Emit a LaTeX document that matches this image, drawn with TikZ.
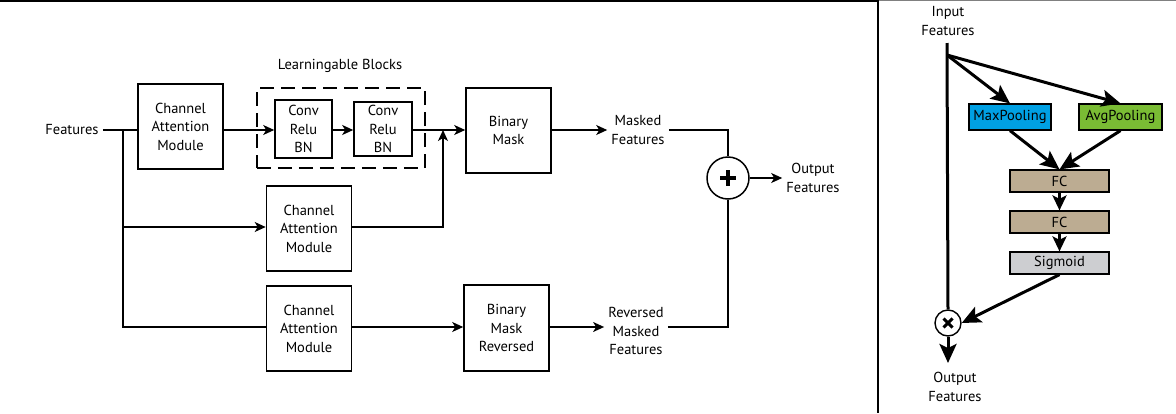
\documentclass[tikz,border=0pt]{standalone}
\usepackage{fontspec}
\setmainfont{PT Sans}
\usetikzlibrary{arrows.meta,calc}
\definecolor{maxc}{RGB}{0,160,227}
\definecolor{avgc}{RGB}{122,188,52}
\definecolor{fcc}{RGB}{188,172,146}
\definecolor{sigc}{RGB}{205,206,209}
\begin{document}
\begin{tikzpicture}[x=1pt,y=-1pt,
  txt/.style={align=center,font=\fontsize{14.5}{18.5}\selectfont,inner sep=4pt},
  box/.style={draw,line width=1.6pt,align=center,inner sep=0pt,
    font=\fontsize{14.5}{18.5}\selectfont},
  sbox/.style={draw,line width=1.2pt,inner sep=0pt,minimum height=23pt,
    font=\fontsize{14.5}{16}\selectfont},
  ln/.style={line width=1.3pt},
  la/.style={ln,-{Stealth[length=11pt,width=10pt,inset=3pt]}},
  ra/.style={line width=3pt,-{Stealth[length=19pt,width=17pt,inset=4pt]}},
  rs/.style={line width=3pt,-{Stealth[length=15pt,width=14pt,inset=3.5pt]}}]
\useasboundingbox (0,0) rectangle (1176,413);
% frame
\draw[line width=1.6pt] (0,0.8) -- (878,0.8);
\draw[line width=1.2pt,gray] (878,0.6) -- (1176,0.6);
\draw[line width=1.6pt] (878,0) -- (878,413);

% ---------- left panel ----------
\node[txt] (feat) at (72,130) {Features};
\node[box,minimum width=85pt,minimum height=85pt] (cam1) at (180.5,126.5) {Channel\\Attention\\Module};
\node[draw,line width=1.6pt,dash pattern=on 14pt off 7pt,minimum width=168pt,minimum height=80pt,inner sep=0pt] (lbox) at (340.75,128) {};
\node[txt] (lbl) at (340,66) {Learningable Blocks};
\node[box,minimum width=57pt,minimum height=58pt] (conv1) at (303.5,129) {Conv\\Relu\\BN};
\node[box,minimum width=58pt,minimum height=54pt] (conv2) at (383,129) {Conv\\Relu\\BN};
\node[box,minimum width=85pt,minimum height=85pt] (bm) at (508.5,130.5) {Binary\\Mask};
\node[box,minimum width=85pt,minimum height=85pt] (cam2) at (309,228.5) {Channel\\Attention\\Module};
\node[box,minimum width=85pt,minimum height=85pt] (cam3) at (309,328.5) {Channel\\Attention\\Module};
\node[box,minimum width=85pt,minimum height=86pt] (bmr) at (506.5,328) {Binary\\Mask\\Reversed};
\node[txt] (masked) at (638,130) {Masked\\Features};
\node[txt] (revm) at (636,331) {Reversed\\Masked\\Features};
\node[draw,circle,line width=1.5pt,minimum size=42pt,inner sep=0pt] (plus) at (728,178) {};
\draw[line width=3.2pt] ($(plus.center)+(-8,0)$) -- ($(plus.center)+(8,0)$)
  ($(plus.center)+(0,-8)$) -- ($(plus.center)+(0,8)$);
\node[txt] (out) at (813,178) {Output\\Features};

\coordinate (br) at (123,130);
\coordinate (br2) at (123,227);
\coordinate (br3) at (123,327);
\coordinate (jn) at (443,130);

\draw[ln] (feat.east) -- (feat.east -| cam1.west);
\draw[ln] (br) -- (br3) -- (br3 -| cam3.west);
\draw[la] (br2) -- (br2 -| cam2.west);
\draw[la] (cam1.east |- feat) -- (conv1.west |- feat);
\draw[line width=2.4pt,-{Stealth[length=11pt,width=10pt,inset=3pt]}] (conv1.east |- feat) -- (conv2.west |- feat);
\draw[la] (conv2.east |- feat) -- (bm.west |- feat);
\draw[la] (cam2.east |- br2) -| (jn);
\draw[la] (bm.east |- feat) -- (masked.west |- feat);
\draw[ln] (masked.east |- feat) -| (plus.north);
\draw[la] (plus.east) -- (out.west);
\draw[la] (cam3.east |- br3) -- (bmr.west |- br3);
\draw[la] (bmr.east |- br3) -- (revm.west |- br3);
\draw[ln] (revm.east |- br3) -| (plus.south);

% ---------- right panel ----------
\node[txt] (inf) at (948,21) {Input\\Features};
\node[sbox,fill=maxc,minimum width=82pt,minimum height=26pt] (maxp) at (1010,117) {MaxPooling};
\node[sbox,fill=avgc,minimum width=83pt,minimum height=26pt] (avgp) at (1120.5,117) {AvgPooling};
\node[sbox,fill=fcc,minimum width=99pt,minimum height=22pt] (fc1) at (1059.5,181) {FC};
\node[sbox,fill=fcc,minimum width=99pt,minimum height=22pt] (fc2) at (1059.5,222) {FC};
\node[sbox,fill=sigc,minimum width=99pt,minimum height=22pt] (sig) at (1059.5,263) {Sigmoid};
\node[draw,circle,line width=1.4pt,minimum size=26pt,inner sep=0pt] (mul) at (948,323) {};
\draw[line width=3pt] ($(mul.center)+(-4.5,-4.5)$) -- ($(mul.center)+(4.5,4.5)$)
  ($(mul.center)+(-4.5,4.5)$) -- ($(mul.center)+(4.5,-4.5)$);
\node[txt] (outr) at (955,387) {Output\\Features};
\coordinate (top) at (947,43);
\coordinate (sp) at (947,55);
\coordinate (otip) at (948,363);

\draw[line width=3pt] (top) -- (mul.north);
\draw[ra] (sp) -- (maxp.north);
\draw[ra] (sp) -- (avgp.north);
\draw[ra] (maxp.south) -- (fc1.north);
\draw[ra] (avgp.south) -- (fc1.north);
\draw[rs] (fc1.south) -- (fc2.north);
\draw[rs] (fc2.south) -- (sig.north);
\draw[ra] (sig.south) -- (mul.east);
\draw[ra] (mul.south) -- (otip);
\end{tikzpicture}
\end{document}
